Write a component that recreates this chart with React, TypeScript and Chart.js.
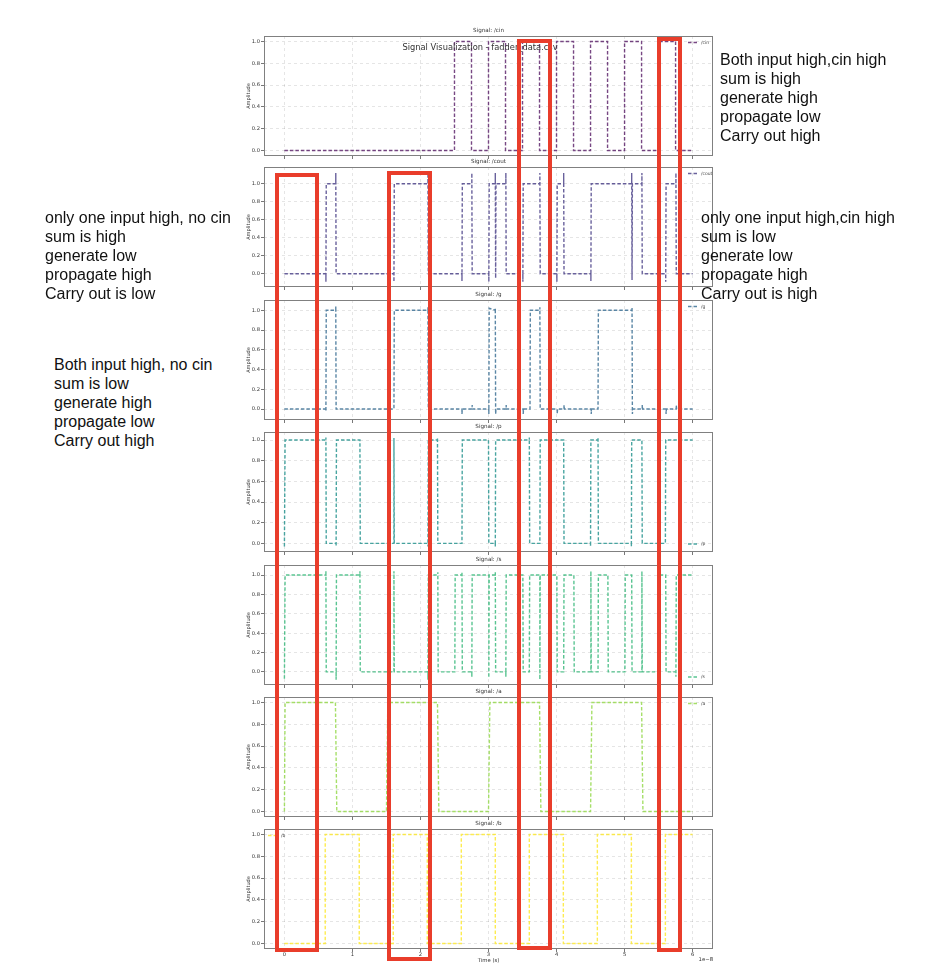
import React, { useEffect, useRef } from "react";
import { Chart, registerables } from "chart.js";

Chart.register(...registerables);

// ---------------- data ----------------
const timeTicks = [0, 1, 2, 3, 4, 5, 6];
const ampTicks = [0, 0.2, 0.4, 0.6, 0.8, 1.0];
const signalNames = ["/cin", "/cout", "/g", "/p", "/s", "/a", "/b"];
const mainTitle = "Signal Visualization - fadder_data.csv";
const xAxisLabel = "Time (s)";
const xAxisExponent = "1e\u22128";
const yAxisLabel = "Amplitude";

const cinPoints: [number, number][] = [
  [0, 0], [2.5, 0], [2.5, 1], [2.75, 1], [2.75, 0], [3, 0], [3, 1], [3.25, 1], [3.25, 0],
  [3.5, 0], [3.5, 1], [3.75, 1], [3.75, 0], [4, 0], [4, 1], [4.25, 1], [4.25, 0],
  [4.5, 0], [4.5, 1], [4.75, 1], [4.75, 0], [5, 0], [5, 1], [5.25, 1], [5.25, 0],
  [5.5, 0], [5.5, 1], [5.75, 1], [5.75, 0], [6, 0],
];

const coutPoints: [number, number][] = [
  [0, 0],
  [0.61, 0], [0.61, -0.09], [0.615, 1],
  [0.755, 1], [0.755, 1.12], [0.76, 0],
  [1.61, 0], [1.61, -0.09], [1.615, 1],
  [2.11, 1], [2.11, 1.12], [2.115, 0],
  [2.61, 0], [2.61, -0.08], [2.615, 1],
  [2.755, 1], [2.755, 1.12], [2.76, 0],
  [3.005, 0], [3.005, -0.09], [3.01, 1],
  [3.1, 1], [3.1, 1.12], [3.105, -0.05], [3.11, 1],
  [3.255, 1], [3.255, 1.12], [3.26, 0],
  [3.505, 0], [3.505, -0.09], [3.51, 1],
  [3.755, 1], [3.755, 1.12], [3.76, 0],
  [4.005, 0], [4.005, -0.09], [4.01, 1],
  [4.105, 1], [4.105, 1.12], [4.11, 0],
  [4.505, 0], [4.505, -0.08], [4.51, 1],
  [5.105, 1], [5.105, 1.12], [5.11, -0.07], [5.115, 1],
  [5.255, 1], [5.255, 1.12], [5.26, 0],
  [5.605, 0], [5.605, -0.09], [5.61, 1],
  [5.755, 1], [5.755, 1.12], [5.76, 0],
  [6, 0],
];

const gPoints: [number, number][] = [
  [0, 0], [0.61, 0], [0.61, -0.02], [0.615, 1], [0.755, 1], [0.755, 1.04], [0.76, 0],
  [1.61, 0], [1.615, 1], [2.11, 1], [2.11, 1.03], [2.115, 0],
  [2.61, 0], [2.61, -0.05], [2.615, 0], [2.76, 0], [2.76, 0.04], [2.765, 0],
  [3.005, 0], [3.005, -0.05], [3.01, 1.02], [3.1, 1], [3.1, 1.02], [3.105, -0.05], [3.11, 0],
  [3.26, 0], [3.26, 0.04], [3.265, 0], [3.51, 0], [3.51, -0.05], [3.515, 0],
  [3.61, 0], [3.615, 1], [3.755, 1], [3.755, 1.03], [3.76, 0],
  [4.01, 0], [4.01, -0.05], [4.015, 0], [4.11, 0], [4.11, 0.04], [4.115, 0],
  [4.51, 0], [4.51, -0.05], [4.515, 0], [4.61, 0], [4.615, 1],
  [5.11, 1], [5.11, 1.03], [5.115, -0.05], [5.12, 0],
  [5.26, 0], [5.26, 0.04], [5.265, 0], [5.61, 0], [5.61, -0.05], [5.615, 0],
  [5.76, 0], [5.76, 0.04], [5.765, 0], [6, 0],
];

const pPoints: [number, number][] = [
  [0, -0.03], [0.01, 1], [0.61, 1], [0.61, 1.025], [0.615, 0],
  [0.76, 0], [0.76, -0.03], [0.765, 1], [1.11, 1], [1.115, 0],
  [1.61, 0], [1.61, 1.02], [1.615, 0],
  [2.11, 0], [2.11, -0.03], [2.115, 1], [2.25, 1], [2.25, 1.025], [2.255, 0],
  [2.61, 0], [2.615, 1], [3.0, 1], [3.005, 0],
  [3.1, 0], [3.1, -0.03], [3.105, 1], [3.6, 1], [3.6, 1.025], [3.605, 0],
  [3.755, 0], [3.76, 1], [4.105, 1], [4.11, 0],
  [4.5, 0], [4.5, -0.03], [4.505, 1], [4.61, 1], [4.61, 1.025], [4.615, 0],
  [5.1, 0], [5.1, -0.03], [5.105, 1], [5.255, 1], [5.26, 0],
  [5.6, 0], [5.605, 1], [6, 1],
];

const sPoints: [number, number][] = [
  [0, -0.07], [0.01, 1],
  [0.61, 1], [0.61, 1.04], [0.615, 0],
  [0.76, 0], [0.76, -0.08], [0.765, 1],
  [1.11, 1], [1.11, 1.04], [1.115, 0],
  [1.61, 0], [1.61, 1.04], [1.615, 0],
  [2.11, 0], [2.11, -0.08], [2.115, 1],
  [2.255, 1], [2.255, 1.03], [2.26, 0],
  [2.505, 0], [2.51, 1],
  [2.61, 1], [2.61, 1.03], [2.615, 0],
  [2.755, 0], [2.755, -0.05], [2.76, 1],
  [3.005, 1], [3.005, -0.06], [3.01, 1],
  [3.1, 1], [3.1, 1.03], [3.105, 0],
  [3.255, 0], [3.255, -0.05], [3.26, 1],
  [3.505, 1], [3.51, 0],
  [3.6, 0], [3.605, 1],
  [3.755, 1], [3.755, -0.08], [3.76, 1],
  [4.005, 1], [4.01, 0],
  [4.105, 0], [4.11, 1],
  [4.255, 1], [4.26, 0],
  [4.505, 0], [4.505, 1.04], [4.51, 0],
  [4.61, 0], [4.615, 1],
  [4.755, 1], [4.76, 0],
  [5.005, 0], [5.01, 1],
  [5.105, 1], [5.11, 0],
  [5.255, 0], [5.255, 1.04], [5.26, 0],
  [5.505, 0], [5.51, 1],
  [5.605, 1], [5.61, 0],
  [5.755, 0], [5.755, -0.05], [5.76, 1],
  [6, 1],
];

const aPoints: [number, number][] = [
  [0, 0], [0.01, 1], [0.75, 1], [0.77, 0], [1.5, 0], [1.52, 1], [2.25, 1], [2.27, 0],
  [3.0, 0], [3.02, 1], [3.75, 1], [3.77, 0], [4.5, 0], [4.52, 1], [5.25, 1], [5.27, 0], [6, 0],
];

const bPoints: [number, number][] = [
  [0, 0], [0.6, 0], [0.6, 1], [1.1, 1], [1.1, 0], [1.6, 0], [1.6, 1], [2.1, 1], [2.1, 0],
  [2.6, 0], [2.6, 1], [3.1, 1], [3.1, 0], [3.6, 0], [3.6, 1], [4.1, 1], [4.1, 0],
  [4.6, 0], [4.6, 1], [5.1, 1], [5.1, 0], [5.6, 0], [5.6, 1], [6, 1],
];

const signalData = [cinPoints, coutPoints, gPoints, pPoints, sPoints, aPoints, bPoints];

const noteLeftTop = [
  "only one input high, no cin",
  "sum is high",
  "generate low",
  "propagate high",
  "Carry out is low",
];
const noteLeftBottom = [
  "Both input high, no cin",
  "sum is low",
  "generate high",
  "propagate low",
  "Carry out high",
];
const noteRightTop = [
  "Both input high,cin high",
  "sum is high",
  "generate high",
  "propagate low",
  "Carry out high",
];
const noteRightBottom = [
  "only one input high,cin high",
  "sum is low",
  "generate low",
  "propagate high",
  "Carry out is high",
];

// ---------------- styles / layout ----------------
const panelStyles = [
  { color: "rgba(68,1,84,0.72)", yMin: -0.05, yMax: 1.05, legend: "tr" },
  { color: "rgba(68,57,131,0.8)", yMin: -0.148, yMax: 1.186, legend: "tr" },
  { color: "rgba(49,104,142,0.8)", yMin: -0.111, yMax: 1.104, legend: "tr" },
  { color: "rgba(33,145,140,0.82)", yMin: -0.084, yMax: 1.078, legend: "br" },
  { color: "rgba(53,183,121,0.82)", yMin: -0.135, yMax: 1.104, legend: "br" },
  { color: "rgba(144,215,67,0.8)", yMin: -0.05, yMax: 1.05, legend: "tr" },
  { color: "rgba(253,231,37,0.8)", yMin: -0.05, yMax: 1.05, legend: "tl" },
];
const frameTops = [36, 167, 300, 432, 565, 697, 829];
const frameH = 120;
const CANVAS_LEFT = 230;
const CANVAS_W = 500;
const Y_AXIS_W = 34;
const RIGHT_PAD = 17;
const TOP_PAD = 12;
const FONT = '"DejaVu Sans", sans-serif';
const LINE_W = 1.4;

function decorPlugin(idx: number, isBottom: boolean) {
  const st = panelStyles[idx];
  return {
    id: "decor" + idx,
    afterDraw(chart: any) {
      const { ctx, chartArea: ca } = chart;
      ctx.save();
      // frame
      ctx.setLineDash([]);
      ctx.strokeStyle = "#808080";
      ctx.lineWidth = 1;
      ctx.strokeRect(ca.left + 0.5, ca.top + 0.5, ca.right - ca.left - 1, ca.bottom - ca.top - 1);
      // subplot title
      ctx.fillStyle = "#333";
      ctx.font = `5.6px ${FONT}`;
      ctx.textAlign = "center";
      ctx.textBaseline = "alphabetic";
      ctx.fillText("Signal: " + signalNames[idx], (ca.left + ca.right) / 2, ca.top - 4);
      // y label
      ctx.save();
      ctx.translate(ca.left - 15, (ca.top + ca.bottom) / 2);
      ctx.rotate(-Math.PI / 2);
      ctx.textBaseline = "middle";
      ctx.font = `5px ${FONT}`;
      ctx.fillText(yAxisLabel, 0, 0);
      ctx.restore();
      // legend
      let lx0: number, ly: number;
      if (st.legend === "tr") {
        lx0 = ca.right - 25;
        ly = ca.top + 6.5;
      } else if (st.legend === "br") {
        lx0 = ca.right - 25;
        ly = ca.bottom - 8;
      } else {
        lx0 = ca.left + 4;
        ly = ca.top + 6.5;
      }
      ctx.strokeStyle = st.color;
      ctx.lineWidth = LINE_W;
      ctx.setLineDash([3.5, 2]);
      ctx.beginPath();
      ctx.moveTo(lx0, ly);
      ctx.lineTo(lx0 + 10, ly);
      ctx.stroke();
      ctx.setLineDash([]);
      ctx.fillStyle = "#444";
      ctx.font = `4.5px ${FONT}`;
      ctx.textAlign = "left";
      ctx.textBaseline = "middle";
      ctx.fillText(signalNames[idx], lx0 + 13, ly);
      // main title on the first panel
      if (idx === 0) {
        ctx.fillStyle = "#333";
        ctx.font = `8.3px ${FONT}`;
        ctx.textAlign = "center";
        ctx.textBaseline = "middle";
        ctx.fillText(mainTitle, 480 - CANVAS_LEFT, 48 - (frameTops[0] - TOP_PAD));
      }
      if (isBottom) {
        ctx.fillStyle = "#333";
        ctx.font = `5.3px ${FONT}`;
        ctx.textAlign = "center";
        ctx.textBaseline = "middle";
        ctx.fillText(xAxisLabel, (ca.left + ca.right) / 2, ca.bottom + 11.5);
        ctx.textAlign = "right";
        ctx.fillText(xAxisExponent, ca.right, ca.bottom + 10.5);
      }
      ctx.restore();
    },
  };
}

function Panel({ idx }: { idx: number }) {
  const ref = useRef<HTMLCanvasElement>(null);
  const isBottom = idx === panelStyles.length - 1;
  const xh = isBottom ? 30 : 5;
  const canvasTop = frameTops[idx] - TOP_PAD;
  const height = TOP_PAD + frameH + xh;

  useEffect(() => {
    const st = panelStyles[idx];
    const gridCommon = {
      color: "rgba(0,0,0,0.13)",
      lineWidth: 0.8,
      drawTicks: true,
      tickLength: 3,
      tickColor: "#555",
      tickWidth: 0.8,
    };
    const chart = new Chart(ref.current as HTMLCanvasElement, {
      type: "line",
      data: {
        datasets: [
          {
            label: signalNames[idx],
            data: signalData[idx].map(([x, y]) => ({ x, y })),
            borderColor: st.color,
            borderWidth: LINE_W,
            borderDash: [3.5, 2],
            pointRadius: 0,
            fill: false,
            tension: 0,
          },
        ],
      },
      options: {
        responsive: false,
        maintainAspectRatio: false,
        animation: false,
        events: [],
        layout: { padding: { left: 0, right: RIGHT_PAD, top: TOP_PAD, bottom: 0 } },
        plugins: { legend: { display: false }, tooltip: { enabled: false }, title: { display: false } },
        scales: {
          x: {
            type: "linear",
            min: -0.3,
            max: 6.3,
            afterBuildTicks: (ax: any) => {
              ax.ticks = timeTicks.map((v) => ({ value: v }));
            },
            afterFit: (ax: any) => {
              ax.height = xh;
            },
            grid: gridCommon,
            border: { display: false, dash: [3, 3] },
            ticks: {
              display: isBottom,
              autoSkip: false,
              maxRotation: 0,
              padding: 0,
              color: "#333",
              font: { size: 5.2, family: FONT },
              callback: (v: any) => String(v),
            },
          },
          y: {
            min: st.yMin,
            max: st.yMax,
            afterBuildTicks: (ax: any) => {
              ax.ticks = ampTicks.map((v) => ({ value: v }));
            },
            afterFit: (ax: any) => {
              ax.width = Y_AXIS_W;
            },
            grid: gridCommon,
            border: { display: false, dash: [3, 3] },
            ticks: {
              autoSkip: false,
              padding: 1,
              color: "#333",
              font: { size: 5.2, family: FONT },
              callback: (v: any) => Number(v).toFixed(1),
            },
          },
        },
      } as any,
      plugins: [decorPlugin(idx, isBottom)],
    });
    return () => chart.destroy();
  }, []);

  return (
    <canvas
      ref={ref}
      width={CANVAS_W}
      height={height}
      style={{ position: "absolute", left: CANVAS_LEFT, top: canvasTop, width: CANVAS_W, height }}
    />
  );
}

const redBoxes = [
  { left: 275, top: 173, width: 44, height: 779 },
  { left: 387, top: 171, width: 45, height: 790 },
  { left: 517, top: 39, width: 35, height: 911 },
  { left: 657, top: 37, width: 25, height: 915 },
];

const notes = [
  { lines: noteLeftTop, left: 45, top: 208 },
  { lines: noteLeftBottom, left: 54, top: 355 },
  { lines: noteRightTop, left: 720, top: 50 },
  { lines: noteRightBottom, left: 701, top: 208 },
];

export default function App() {
  return (
    <div style={{ position: "absolute", left: 0, top: 0, width: 950, height: 979, background: "#fff", overflow: "hidden" }}>
      {panelStyles.map((_, i) => (
        <Panel key={i} idx={i} />
      ))}
      {redBoxes.map((b, i) => (
        <div
          key={"r" + i}
          style={{
            position: "absolute",
            left: b.left,
            top: b.top,
            width: b.width,
            height: b.height,
            border: "4px solid #e93d2b",
            boxSizing: "border-box",
          }}
        />
      ))}
      {notes.map((n, i) => (
        <div
          key={"n" + i}
          style={{
            position: "absolute",
            left: n.left,
            top: n.top,
            fontFamily: '"Liberation Sans", Arial, sans-serif',
            fontSize: 16,
            lineHeight: "19px",
            color: "#111",
            whiteSpace: "pre",
          }}
        >
          {n.lines.map((l, j) => (
            <div key={j}>{l}</div>
          ))}
        </div>
      ))}
    </div>
  );
}
